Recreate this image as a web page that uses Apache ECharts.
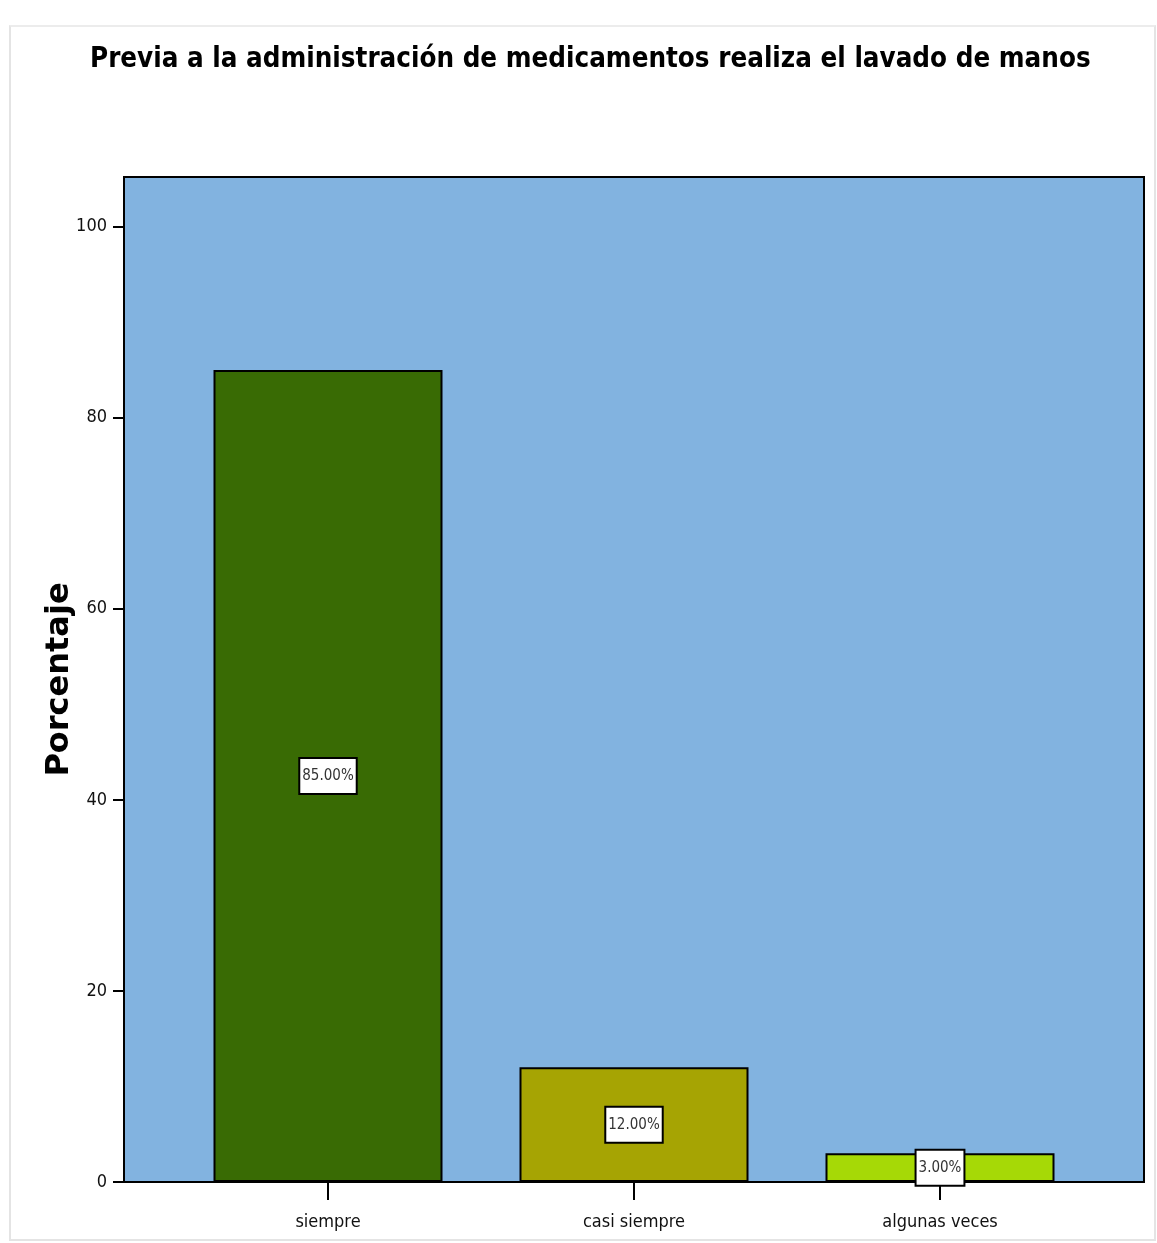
<!DOCTYPE html>
<html>
<head>
<meta charset="utf-8">
<script src="https://cdn.jsdelivr.net/npm/echarts@6/dist/echarts.min.js"></script>
<style>
  html, body { margin: 0; padding: 0; background: #fff; }
  #chart { width: 1157px; height: 1243px; }
  .frame {
    position: absolute; left: 9px; top: 25px; width: 1143px; height: 1212px;
    border: 2px solid #e4e4e4; border-top-color: #ececec; pointer-events: none;
  }
</style>
</head>
<body>
<div id="chart"></div>
<div class="frame"></div>
<script>
const TITLE = 'Previa a la administración de medicamentos realiza el lavado de manos'
const AXIS_NAME = 'Porcentaje'
const categories = ['siempre', 'casi siempre', 'algunas veces']
const percentages = [85, 12, 3]
const barColors = ['#396b04', '#a6a403', '#a6d906']
const yTicks = [0, 20, 40, 60, 80, 100]
const Y_MAX = 105.2

const NARROW = "'Liberation Sans Narrow', 'Arial Narrow', 'DejaVu Sans Condensed', sans-serif"

const chart = echarts.init(document.getElementById('chart'))

const plotTop = 177
const plotBottom = 61

chart.setOption({
  backgroundColor: '#fff',
  animation: false,
  title: {
    text: TITLE,
    left: 85,
    top: 41,
    textStyle: {
      fontFamily: NARROW,
      fontWeight: 'bold',
      fontSize: 27.5,
      color: '#000'
    }
  },
  grid: [
    {
      // frame of the plot area
      left: 124, width: 1020, top: plotTop, bottom: plotBottom,
      show: true,
      backgroundColor: '#82b3e0',
      borderColor: '#000',
      borderWidth: 2
    },
    {
      // bars sit inside, inset from the frame
      left: 175, width: 918, top: plotTop, bottom: plotBottom
    }
  ],
  xAxis: [
    { gridIndex: 0, type: 'value', min: 0, max: 1, show: false },
    {
      gridIndex: 1,
      type: 'category',
      data: categories,
      axisLine: { show: false },
      axisTick: {
        show: true,
        alignWithLabel: true,
        length: 18,
        lineStyle: { color: '#000', width: 2 }
      },
      axisLabel: {
        margin: 31,
        color: '#111',
        fontFamily: NARROW,
        fontSize: 18
      }
    }
  ],
  yAxis: [
    {
      gridIndex: 0,
      type: 'value',
      min: 0,
      max: Y_MAX,
      name: AXIS_NAME,
      nameLocation: 'middle',
      nameGap: 48,
      nameMoveOverlap: false,
      nameTextStyle: {
        fontFamily: "'DejaVu Sans', sans-serif",
        fontWeight: 'bold',
        fontSize: 32,
        color: '#000'
      },
      splitLine: { show: false },
      axisLine: { show: true, lineStyle: { color: '#000', width: 2 } },
      axisTick: {
        show: true,
        length: 11,
        customValues: yTicks,
        lineStyle: { color: '#000', width: 2 }
      },
      axisLabel: {
        customValues: yTicks,
        margin: 17,
        color: '#111',
        fontFamily: NARROW,
        fontSize: 18
      }
    },
    { gridIndex: 1, type: 'value', min: 0, max: Y_MAX, show: false }
  ],
  series: [
    {
      type: 'bar',
      xAxisIndex: 1,
      yAxisIndex: 1,
      barWidth: 229,
      data: percentages.map((v, i) => ({
        value: v,
        itemStyle: { color: barColors[i] }
      })),
      itemStyle: { borderColor: '#000', borderWidth: 2 },
      label: {
        show: true,
        position: 'inside',
        formatter: p => p.value.toFixed(2) + '%',
        fontFamily: NARROW,
        fontSize: 15,
        color: '#333',
        backgroundColor: '#fff',
        borderColor: '#000',
        borderWidth: 2,
        padding: [10, 2, 9, 2]
      }
    }
  ]
})
</script>
</body>
</html>
